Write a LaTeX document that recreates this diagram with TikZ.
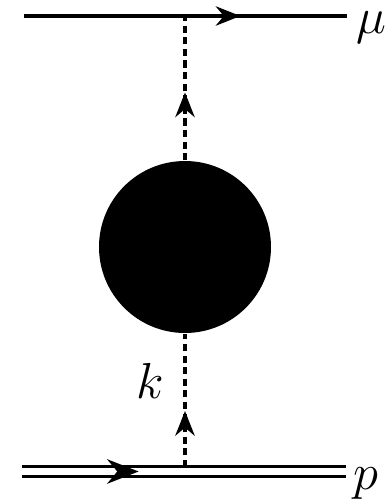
\documentclass[tikz,border=0pt]{standalone}
\usepackage{amsmath,amssymb}
\usepackage{tikz}
\usetikzlibrary{positioning,arrows.meta,decorations.markings}
\usepackage{xcolor}

\begin{document}
\begin{tikzpicture}[font=\Large,
  fermion/.style={line width=1pt,postaction={decorate},
    decoration={markings,mark=at position #1 with {\arrow{Stealth[length=7pt,width=5.5pt]}}}},
  photon/.style={line width=1.1pt,dash pattern=on 2pt off 1.3pt,postaction={decorate},
    decoration={markings,mark=at position #1 with {\arrow[solid]{Stealth[length=7pt,width=5.5pt]}}}},
  proton/.style={double,line width=0.9pt,double distance=2pt,postaction={decorate},
    decoration={markings,mark=at position #1 with {\arrow[line width=0.6pt]{Stealth[length=9pt,width=7pt]}}}}]
\useasboundingbox (0,0) rectangle (3.91,5.01);
\coordinate (muin) at (0.24,4.85);
\coordinate (muout) at (3.47,4.85);
\coordinate (vtop) at (1.85,4.85);
\coordinate (pin) at (0.22,0.295);
\coordinate (pout) at (3.46,0.295);
\coordinate (vbot) at (1.85,0.34);
\node[circle,fill=black,minimum size=1.72cm,inner sep=0pt] (blob) at (1.85,2.54) {};
\node[inner sep=0pt] (mu) at (3.71,4.73) {$\mu$};
\node[inner sep=0pt] (p) at (3.66,0.17) {$p$};
\node[inner sep=0pt] (k) at (1.50,1.20) {$k$};
\draw[fermion=0.67] (muin) -- (muout);
\draw[proton=0.36] (pin) -- (pout);
\draw[photon=0.47] (blob.north) -- (vtop);
\draw[photon=0.42] (vbot) -- (blob.south);
\end{tikzpicture}
\end{document}
